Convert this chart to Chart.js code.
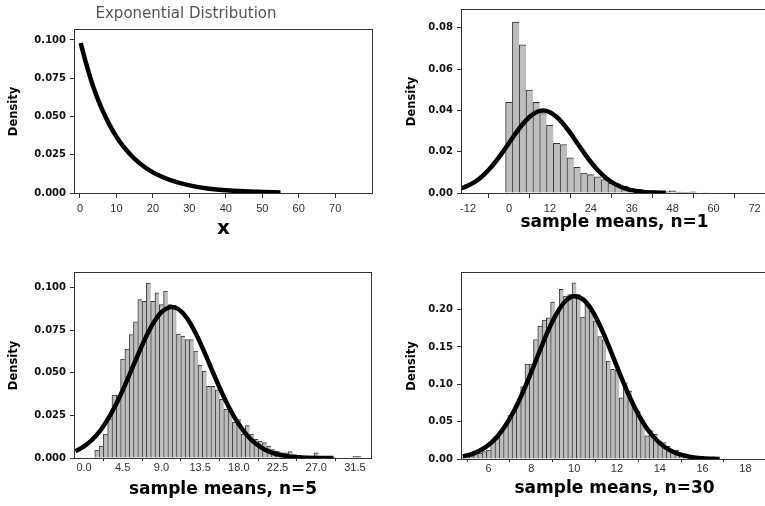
<!DOCTYPE html>
<html>
<head>
<meta charset="utf-8">
<script src="https://cdn.jsdelivr.net/npm/chart.js@4.4.1/dist/chart.umd.min.js"></script>
<style>
  html, body { margin: 0; padding: 0; background: #fff; }
  body { width: 765px; height: 506px; position: relative; overflow: hidden; }
  canvas { position: absolute; }
</style>
</head>
<body>
<canvas id="expChart" width="383" height="250" style="left:0;top:0"></canvas>
<canvas id="n1Chart" width="390" height="250" style="left:383px;top:0"></canvas>
<canvas id="n5Chart" width="383" height="256" style="left:0;top:250px"></canvas>
<canvas id="n30Chart" width="390" height="256" style="left:383px;top:250px"></canvas>
<script>
// Exponential density (mean 10)
const expX = [0.2, 1, 2, 3, 4, 5, 6, 8, 10, 12, 14, 16, 18, 20, 22, 25, 28, 31, 35, 40, 45, 50, 55];
const expDensity = [0.098, 0.0905, 0.082, 0.074, 0.067, 0.0607, 0.055, 0.045, 0.0368, 0.0301, 0.0247, 0.0202,
  0.0165, 0.0135, 0.0111, 0.0082, 0.0061, 0.0045, 0.003, 0.0018, 0.0011, 0.0007, 0.0004];
const expXTicks = [0, 10, 20, 30, 40, 50, 60, 70];
const expYTicks = [0, 0.025, 0.05, 0.075, 0.1];

// Sample means, n = 1
const n1Bins = [0, 2, 4, 6, 8, 10, 12, 14, 16, 18, 20, 22, 24, 26, 28, 30, 32, 34, 36, 38,
  40, 42, 44, 46, 48, 50, 52, 54, 56, 58];
const n1Heights = [0.0439, 0.0828, 0.0717, 0.0498, 0.0439, 0.0385, 0.0328, 0.024, 0.0235, 0.017,
  0.0124, 0.0097, 0.0089, 0.0078, 0.0065, 0.0048, 0.0035, 0.0033, 0.0022, 0.0017,
  0.0013, 0.001, 0.0008, 0.0006, 0.001, 0.0004, 0.0003, 0.0006, 0.0002, 0.0001];
const n1CurveX = [-14, -12, -10, -8, -6, -4, -2, 0, 2, 4, 6, 8, 10, 12, 14, 16, 18, 20, 22, 24,
  26, 28, 30, 32, 34, 36, 38, 40, 43, 46];
const n1CurveY = [0.0022, 0.0036, 0.0054, 0.0079, 0.0111, 0.015, 0.0194, 0.0242, 0.029, 0.0333,
  0.0368, 0.0391, 0.0399, 0.0391, 0.0368, 0.0333, 0.029, 0.0242, 0.0194, 0.015,
  0.0111, 0.0079, 0.0054, 0.0036, 0.0022, 0.0014, 0.0008, 0.0004, 0.0002, 0.0001];
const n1XTicks = [-12, 0, 12, 24, 36, 48, 60, 72];
const n1YTicks = [0, 0.02, 0.04, 0.06, 0.08];

// Sample means, n = 5
const n5Bins = [1.5, 2, 2.5, 3, 3.5, 4, 4.5, 5, 5.5, 6, 6.5, 7, 7.5, 8, 8.5, 9, 9.5, 10, 10.5, 11,
  11.5, 12, 12.5, 13, 13.5, 14, 14.5, 15, 15.5, 16, 16.5, 17, 17.5, 18, 18.5, 19, 19.5, 20,
  20.5, 21, 21.5, 22, 22.5, 23, 23.5, 24, 24.5, 25, 25.5, 26, 26.5, 27, 27.5, 28, 28.5, 29,
  29.5, 30, 30.5, 31, 31.5, 32];
const n5Heights = [0.0047, 0.007, 0.014, 0.023, 0.037, 0.037, 0.058, 0.064, 0.0725, 0.08,
  0.093, 0.092, 0.1027, 0.092, 0.097, 0.09, 0.098, 0.09, 0.0896, 0.0728,
  0.0715, 0.0695, 0.0695, 0.0627, 0.0545, 0.051, 0.042, 0.042, 0.04, 0.0344,
  0.0285, 0.0295, 0.021, 0.0226, 0.014, 0.019, 0.014, 0.011, 0.01, 0.009,
  0.007, 0.005, 0.004, 0.003, 0.003, 0.0037, 0.002, 0.0015, 0.001, 0.001,
  0.0008, 0.003, 0.001, 0.0008, 0.0005, 0.0005, 0, 0, 0, 0, 0.001, 0.001];
const n5CurveX = [-1, 0, 1, 2, 3, 4, 5, 6, 7, 8, 9, 10, 10.2, 11, 12, 13, 14, 15, 16, 17, 18,
  19, 20, 21, 22, 23, 24, 26, 29];
const n5CurveY = [0.004, 0.0068, 0.011, 0.0169, 0.0247, 0.0343, 0.0455, 0.0574, 0.0689, 0.0787,
  0.0856, 0.0886, 0.0887, 0.0873, 0.0819, 0.0731, 0.0621, 0.0502, 0.0387, 0.0283, 0.0198,
  0.0131, 0.0083, 0.005, 0.0029, 0.0016, 0.0008, 0.0002, 0];
const n5XTicks = [0, 4.5, 9, 13.5, 18, 22.5, 27, 31.5];
const n5YTicks = [0, 0.025, 0.05, 0.075, 0.1];

// Sample means, n = 30
const n30Bins = [4.8, 5, 5.2, 5.4, 5.6, 5.8, 6, 6.2, 6.4, 6.6, 6.8, 7, 7.2, 7.4, 7.6, 7.8, 8, 8.2,
  8.4, 8.6, 8.8, 9, 9.2, 9.4, 9.6, 9.8, 10, 10.2, 10.4, 10.6, 10.8, 11, 11.2, 11.4, 11.6, 11.8,
  12, 12.2, 12.4, 12.6, 12.8, 13, 13.2, 13.4, 13.6, 13.8, 14, 14.2, 14.4, 14.6, 14.8, 15, 15.2,
  15.4, 15.6, 15.8, 16, 16.2, 16.4, 16.6];
const n30Heights = [0.002, 0.003, 0.004, 0.006, 0.008, 0.01, 0.012, 0.024, 0.027, 0.037, 0.044,
  0.058, 0.066, 0.075, 0.097, 0.127, 0.127, 0.16, 0.178, 0.186, 0.189, 0.21, 0.196, 0.227,
  0.218, 0.22, 0.236, 0.22, 0.19, 0.208, 0.198, 0.185, 0.164, 0.16, 0.131, 0.12, 0.119,
  0.082, 0.102, 0.091, 0.073, 0.064, 0.052, 0.031, 0.038, 0.033, 0.024, 0.022, 0.017,
  0.012, 0.012, 0.008, 0.007, 0.005, 0.004, 0.003, 0.002, 0.001, 0.001, 0.001];
const n30CurveX = [4.8, 5.2, 5.6, 6, 6.4, 6.8, 7.2, 7.6, 8, 8.4, 8.8, 9.2, 9.6, 10, 10.4, 10.8,
  11.2, 11.6, 12, 12.4, 12.8, 13.2, 13.6, 14, 14.4, 14.8, 15.2, 15.6, 16, 16.8];
const n30CurveY = [0.0036, 0.0065, 0.0114, 0.0188, 0.0299, 0.0451, 0.0649, 0.089, 0.1164, 0.1453,
  0.1727, 0.1957, 0.2115, 0.218, 0.214, 0.2004, 0.179, 0.1523, 0.1236, 0.0957, 0.0706,
  0.0496, 0.0332, 0.0212, 0.0129, 0.0075, 0.0042, 0.0022, 0.0011, 0];
const n30XTicks = [6, 8, 10, 12, 14, 16, 18];
const n30YTicks = [0, 0.05, 0.1, 0.15, 0.2];

// box around the plotting area, drawn under the data
const frame = {
  id: 'frame',
  beforeDatasetsDraw(chart) {
    const { ctx, chartArea: a } = chart;
    ctx.save();
    ctx.strokeStyle = '#333';
    ctx.lineWidth = 1;
    ctx.strokeRect(Math.round(a.left) - 0.5, Math.round(a.top) - 0.5,
      Math.round(a.right - a.left) + 1, Math.round(a.bottom - a.top) + 1);
    ctx.restore();
  }
};

const pts = (xs, ys) => xs.map((x, i) => ({ x, y: ys[i] }));

function makePanel(id, p) {
  const datasets = [{
    type: 'line',
    data: pts(p.curveX, p.curveY),
    borderColor: '#000',
    borderWidth: 4.5,
    pointRadius: 0,
    cubicInterpolationMode: 'monotone',
    order: 1
  }];
  if (p.bins) {
    datasets.push({
      type: 'bar',
      data: pts(p.bins, p.heights),
      backgroundColor: '#bdbdbd',
      borderColor: '#3a3a3a',
      borderWidth: { left: 1, top: 1, right: 0, bottom: 0 },
      barPercentage: 1,
      categoryPercentage: 1,
      grouped: false,
      order: 2
    });
  }

  return new Chart(document.getElementById(id), {
    data: { datasets },
    options: {
      responsive: false,
      animation: false,
      devicePixelRatio: 1,
      layout: { padding: { left: 0, right: p.padRight, top: p.padTop, bottom: 0 } },
      plugins: {
        legend: { display: false },
        tooltip: { enabled: false },
        title: p.title ? {
          display: true,
          text: p.title,
          color: '#555',
          font: { family: 'DejaVu Sans', size: 15, weight: 'normal' },
          padding: { top: 5, bottom: 7 }
        } : { display: false }
      },
      scales: {
        x: {
          type: 'linear',
          bounds: 'data',
          offset: false,
          min: p.xMin,
          max: p.xMax,
          afterBuildTicks: s => { s.ticks = p.xTicks.map(v => ({ value: v })); },
          afterFit: s => { s.height = p.xHeight; },
          grid: { drawOnChartArea: false, drawTicks: true, tickLength: p.xTickLen, color: '#333' },
          border: { display: false },
          ticks: {
            autoSkip: false,
            maxRotation: 0,
            padding: p.xTickPad,
            color: '#333',
            font: { family: 'Liberation Sans', size: 11 },
            callback: v => v.toFixed(p.xDigits)
          },
          title: {
            display: true,
            text: p.xTitle,
            color: '#000',
            font: { family: 'DejaVu Sans', size: p.xTitleSize, weight: 'bold' },
            padding: { top: 0, bottom: p.xTitlePad }
          }
        },
        y: {
          type: 'linear',
          bounds: 'data',
          min: 0,
          max: p.yMax,
          afterBuildTicks: s => { s.ticks = p.yTicks.map(v => ({ value: v })); },
          afterFit: s => { s.width = p.yWidth; },
          grid: { drawOnChartArea: false, drawTicks: true, tickLength: 5, color: '#333' },
          border: { display: false },
          ticks: {
            padding: 4,
            color: '#111',
            font: { family: 'DejaVu Sans', size: 10, weight: 'bold' },
            callback: v => v.toFixed(p.yDigits)
          },
          title: {
            display: true,
            text: 'Density',
            color: '#000',
            font: { family: 'DejaVu Sans', size: 11.5, weight: 'bold' },
            padding: { top: p.yTitlePad, bottom: 0 }
          }
        }
      }
    },
    plugins: [frame]
  });
}

makePanel('expChart', {
  title: 'Exponential Distribution',
  curveX: expX, curveY: expDensity,
  xMin: -1.37, xMax: 80.1, xTicks: expXTicks, xDigits: 0,
  yMax: 0.1065, yTicks: expYTicks, yDigits: 3,
  xTitle: 'x', xTitleSize: 20, xTitlePad: 9, xHeight: 57, xTickLen: 5, xTickPad: 4,
  yWidth: 75, yTitlePad: 7, padTop: 0, padRight: 11
});

makePanel('n1Chart', {
  bins: n1Bins, heights: n1Heights,
  curveX: n1CurveX, curveY: n1CurveY,
  xMin: -13.78, xMax: 75.66, xTicks: n1XTicks, xDigits: 0,
  yMax: 0.0886, yTicks: n1YTicks, yDigits: 2,
  xTitle: 'sample means, n=1', xTitleSize: 17, xTitlePad: 17, xHeight: 57, xTickLen: 5, xTickPad: 4,
  yWidth: 79, yTitlePad: 22, padTop: 7, padRight: 6
});

makePanel('n5Chart', {
  bins: n5Bins, heights: n5Heights,
  curveX: n5CurveX, curveY: n5CurveY,
  xMin: -1.05, xMax: 33.37, xTicks: n5XTicks, xDigits: 1,
  yMax: 0.1086, yTicks: n5YTicks, yDigits: 3,
  xTitle: 'sample means, n=5', xTitleSize: 17, xTitlePad: 6, xHeight: 48, xTickLen: 3, xTickPad: 0,
  yWidth: 75, yTitlePad: 7, padTop: 23, padRight: 12
});

makePanel('n30Chart', {
  bins: n30Bins, heights: n30Heights,
  curveX: n30CurveX, curveY: n30CurveY,
  xMin: 4.76, xMax: 19.01, xTicks: n30XTicks, xDigits: 0,
  yMax: 0.249, yTicks: n30YTicks, yDigits: 2,
  xTitle: 'sample means, n=30', xTitleSize: 17, xTitlePad: 7, xHeight: 47, xTickLen: 3, xTickPad: 0,
  yWidth: 79, yTitlePad: 22, padTop: 23, padRight: 6
});
</script>
</body>
</html>
